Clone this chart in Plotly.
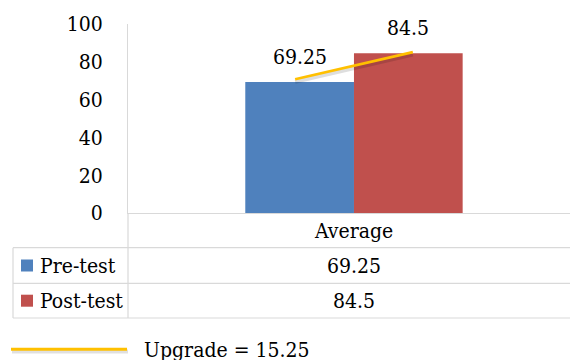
import plotly.graph_objects as go

# ---- data ----
category = "Average"
series_names = ["Pre-test", "Post-test"]
series_values = [69.25, 84.5]
series_colors = ["#4F81BD", "#C0504D"]
y_ticks = [0, 20, 40, 60, 80, 100]
upgrade_color = "#FFC000"

# ---- canvas / plot area (pixels) ----
W, H = 570, 360
L, R, T, B = 128, 0, 24, 147
plot_w = W - L - R
plot_h = H - T - B
FONT = "DejaVu Serif Condensed, DejaVu Serif"
FS = 21
GRID = "#d9d9d9"


def px(x):
    """pixel column -> paper x"""
    return (x - L) / plot_w


def py(y):
    """pixel row -> paper y"""
    return (H - B - y) / plot_h


# bars share one category slot at x = 0
bar_w = 0.2405
x_range = [-0.5, 0.478]
offsets = [-bar_w, 0.0]
centers = [o + bar_w / 2 for o in offsets]

fig = go.Figure()

for name, val, col, off in zip(series_names, series_values, series_colors, offsets):
    fig.add_trace(go.Bar(
        x=[0], y=[val], width=[bar_w], offset=[off],
        marker=dict(color=col, line=dict(width=0)),
        name=name, showlegend=False, hoverinfo="skip",
    ))

# upgrade line between the two bar tops (with a soft drop shadow)
line_x = [centers[0] - 0.01, centers[1] + 0.01]
line_y = [series_values[0] + 1.5, series_values[1] + 0.6]
fig.add_trace(go.Scatter(
    x=line_x, y=[v - 1.3 for v in line_y], mode="lines",
    line=dict(color="rgba(0,0,0,0.13)", width=4),
    showlegend=False, hoverinfo="skip",
))
fig.add_trace(go.Scatter(
    x=line_x, y=line_y, mode="lines",
    line=dict(color=upgrade_color, width=2.75),
    showlegend=False, hoverinfo="skip",
))

annotations = []
# value labels above bars
for val, cx in zip(series_values, centers):
    annotations.append(dict(
        x=cx, y=val, xref="x", yref="y", text=f"{val:g}", showarrow=False,
        yshift=25, yanchor="middle", xanchor="center",
        font=dict(family=FONT, size=FS, color="#000000"),
    ))

shapes = []


def hline(y, x0, x1):
    shapes.append(dict(type="line", xref="paper", yref="paper",
                       x0=px(x0), x1=px(x1), y0=py(y), y1=py(y),
                       line=dict(color=GRID, width=1.2)))


def vline(x, y0, y1):
    shapes.append(dict(type="line", xref="paper", yref="paper",
                       x0=px(x), x1=px(x), y0=py(y0), y1=py(y1),
                       line=dict(color=GRID, width=1.2)))


# data table grid below the chart
row_lines = [247.7, 283.3, 318]
for y in row_lines:
    hline(y, 13, W)
vline(L, H - B, row_lines[-1])
vline(13, row_lines[0], row_lines[-1])

# header row: category name
annotations.append(dict(
    x=0, y=py(231), xref="x", yref="paper", text=category, showarrow=False,
    xanchor="center", yanchor="middle",
    font=dict(family=FONT, size=FS, color="#000000"),
))

row_centers = [265.5, 300.7]
for name, val, col, rc in zip(series_names, series_values, series_colors, row_centers):
    shapes.append(dict(type="rect", xref="paper", yref="paper",
                       x0=px(21), x1=px(33), y0=py(rc - 6), y1=py(rc + 6),
                       fillcolor=col, line=dict(width=0)))
    annotations.append(dict(
        x=px(38), y=py(rc), xref="paper", yref="paper", text=name,
        showarrow=False, xanchor="left", yanchor="middle",
        font=dict(family=FONT, size=FS, color="#000000"),
    ))
    annotations.append(dict(
        x=0, y=py(rc), xref="x", yref="paper", text=f"{val:g}",
        showarrow=False, xanchor="center", yanchor="middle",
        font=dict(family=FONT, size=FS, color="#000000"),
    ))

# key for the upgrade line
shapes.append(dict(type="line", xref="paper", yref="paper",
                   x0=px(12), x1=px(128), y0=py(351.5), y1=py(351.5),
                   line=dict(color="rgba(0,0,0,0.12)", width=4)))
shapes.append(dict(type="line", xref="paper", yref="paper",
                   x0=px(11), x1=px(127), y0=py(349.3), y1=py(349.3),
                   line=dict(color=upgrade_color, width=3)))
upgrade = series_values[1] - series_values[0]
annotations.append(dict(
    x=px(142), y=py(350), xref="paper", yref="paper",
    text=f"Upgrade = {upgrade:g}", showarrow=False,
    xanchor="left", yanchor="middle",
    font=dict(family=FONT, size=FS, color="#000000"),
))

fig.update_layout(
    width=W, height=H,
    margin=dict(l=L, r=R, t=T, b=B, pad=0),
    paper_bgcolor="white", plot_bgcolor="white",
    barmode="overlay",
    showlegend=False,
    font=dict(family=FONT, size=FS, color="#000000"),
    shapes=shapes,
    annotations=annotations,
    xaxis=dict(range=x_range, showticklabels=False, showgrid=False,
               zeroline=False, showline=True, linecolor=GRID, linewidth=1.2,
               fixedrange=True),
    yaxis=dict(range=[0, 100], tickvals=y_ticks, showgrid=False,
               zeroline=False, showline=True, linecolor=GRID, linewidth=1.2,
               ticks="", ticklabelstandoff=20,
               tickfont=dict(family=FONT, size=FS, color="#000000"),
               fixedrange=True),
)

fig.write_html("out.html")
